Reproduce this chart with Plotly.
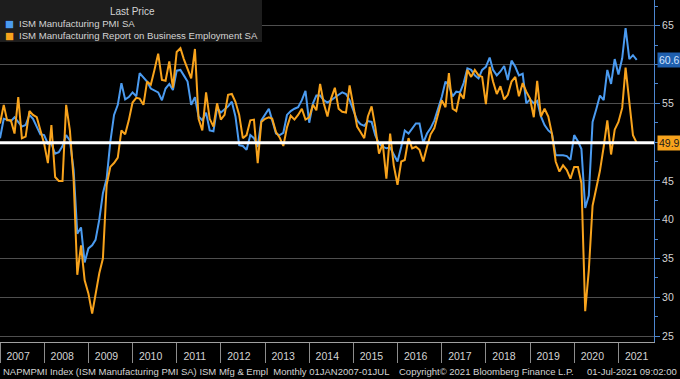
import pandas as pd
import plotly.graph_objects as go

# ---------------- data ----------------
start_month = "2007-01-01"

pmi = [
    # 2007
    50.5, 53.0, 52.9, 52.7, 53.2, 52.6, 52.0, 52.2, 53.5, 53.0, 52.0, 51.0,
    # 2008
    50.9, 49.8, 49.8, 48.5, 48.7, 49.5, 50.9, 50.2, 46.4, 38.2, 39.0, 34.5,
    # 2009
    36.3, 36.7, 37.4, 40.0, 43.4, 45.3, 50.0, 53.5, 54.8, 57.6, 55.5, 55.8,
    # 2010
    56.4, 55.9, 58.9, 58.4, 57.8, 56.9, 56.6, 56.4, 55.4, 56.9, 57.5, 56.7,
    # 2011
    59.2, 59.3, 58.6, 57.8, 54.8, 55.8, 53.3, 52.8, 53.8, 51.5, 51.4, 54.4,
    # 2012
    53.8, 54.2, 54.6, 55.2, 53.3, 49.6, 49.5, 49.0, 50.9, 50.5, 49.4, 52.8,
    # 2013
    53.5, 54.3, 52.8, 51.1, 50.9, 51.2, 53.5, 54.0, 54.3, 54.5, 55.4, 56.6,
    # 2014
    52.5, 55.0, 56.0, 56.0, 55.4, 55.1, 55.4, 55.8, 56.1, 56.4, 56.2, 55.4,
    # 2015
    54.0, 52.8, 52.3, 52.1, 52.7, 52.6, 50.9, 49.8, 49.4, 49.2, 49.3, 48.5,
    # 2016
    47.5, 49.4, 51.5, 51.1, 51.8, 52.4, 52.4, 49.9, 51.1, 51.8, 52.8, 54.3,
    # 2017
    55.8, 57.8, 57.3, 55.9, 56.5, 56.4, 57.6, 59.5, 59.3, 58.6, 58.2, 59.3,
    # 2018
    59.7, 60.9, 59.3, 58.6, 59.1, 59.8, 58.0, 60.5, 59.7, 58.6, 58.8, 55.0,
    # 2019
    55.5, 55.0, 55.3, 53.3, 52.2, 51.5, 51.1, 48.3, 48.3, 48.3, 48.2, 47.7,
    # 2020
    50.9, 50.1, 49.1, 41.5, 43.1, 52.6, 54.2, 56.0, 55.4, 59.3, 57.5, 60.7,
    # 2021
    58.7, 60.8, 64.7, 60.7, 61.2, 60.6,
]

emp = [
    # 2007
    52.4, 54.8, 52.8, 52.8, 51.1, 55.8, 50.5, 50.7, 54.0, 53.5, 53.2, 51.5,
    # 2008
    49.8, 47.3, 52.2, 45.5, 45.0, 45.0, 54.8, 51.5, 45.1, 32.9, 36.7, 32.2,
    # 2009
    30.5, 27.9, 30.5, 33.1, 35.0, 44.5, 46.8, 47.3, 48.0, 51.5, 51.0, 52.8,
    # 2010
    55.1, 55.7, 55.6, 54.8, 57.8, 57.4, 59.3, 61.4, 58.0, 57.9, 60.4, 57.0,
    # 2011
    61.6, 62.1, 60.7, 59.3, 58.2, 62.0, 53.0, 51.5, 56.4, 53.0, 52.0, 55.0,
    # 2012
    52.9, 53.5, 56.1, 56.2, 55.2, 53.5, 50.5, 50.9, 52.8, 52.9, 47.3, 52.6,
    # 2013
    53.0, 53.2, 53.0, 51.3, 50.6, 49.5, 51.9, 53.4, 52.9, 53.5, 54.3, 52.9,
    # 2014
    53.2, 54.8, 54.1, 57.5, 55.0, 53.3, 55.6, 57.0, 54.3, 53.9, 53.8, 57.3,
    # 2015
    54.8, 52.0, 51.3, 50.5, 53.3, 54.6, 52.0, 48.5, 49.8, 45.3, 51.1, 47.0,
    # 2016
    44.5, 47.5, 47.7, 50.5, 49.2, 49.4, 49.0, 47.5, 49.4, 51.0, 51.8, 53.5,
    # 2017
    55.4, 54.5, 58.9, 54.3, 54.0, 56.3, 55.6, 59.3, 58.4, 59.3, 58.6, 58.4,
    # 2018
    54.9, 59.7, 57.8, 56.2, 57.2, 55.5, 56.1, 57.8, 58.4, 55.9, 57.6, 56.5,
    # 2019
    55.6, 53.2, 57.9, 53.3, 54.3, 53.3, 51.1, 47.5, 46.2, 47.0, 46.4, 45.3,
    # 2020
    46.8, 46.8, 44.7, 28.2, 33.5, 41.8, 44.0, 46.3, 49.4, 52.8, 48.4, 51.6,
    # 2021
    52.6, 54.4, 59.6, 55.1, 50.9, 49.9,
]

series_names = ["ISM Manufacturing PMI SA",
                "ISM Manufacturing Report on Business Employment SA"]
legend_title = "Last Price"
y_tick_values = [25, 30, 35, 40, 45, 50, 55, 60, 65]
y_tick_labels = ["25", "30", "35", "40", "45", "", "55", "", "65"]
x_range = ["2007-01-01", "2021-10-22"]
y_range = [24.24, 68.31]
footer_left = "NAPMPMI Index (ISM Manufacturing PMI SA) ISM Mfg &amp; Empl  Monthly 01JAN2007-01JUL"
footer_mid = "Copyright\u00a9 2021 Bloomberg Finance L.P."
footer_right = "01-Jul-2021 09:02:00"

dates = pd.date_range(start_month, periods=len(pmi), freq="MS")

# ---------------- style ----------------
W, H = 680, 379
ML, MR, MT, MB = 0, 26, 0, 37
PW, PH = W - ML - MR, H - MT - MB
BLUE = "#4b9bf0"
ORANGE = "#f8a31c"
AXIS_BLUE = "#4d86cf"
TXT = "#d4d4d4"
FONT = "Liberation Sans, Arial, sans-serif"


def px_x(p):
    return p / PW


def px_y(p):
    return 1 - p / PH


fig = go.Figure()
fig.add_trace(go.Scatter(x=dates, y=pmi, mode="lines", name=series_names[0],
                         line=dict(color=BLUE, width=2)))
fig.add_trace(go.Scatter(x=dates, y=emp, mode="lines", name=series_names[1],
                         line=dict(color=ORANGE, width=2)))

# white reference line at the last employment value
fig.add_hline(y=emp[-1], line=dict(color="white", width=3))

fig.update_layout(
    width=W, height=H,
    margin=dict(l=ML, r=MR, t=MT, b=MB),
    paper_bgcolor="black", plot_bgcolor="black",
    showlegend=False,
    font=dict(family=FONT, color=TXT, size=10),
    xaxis=dict(
        type="date", range=x_range,
        tick0="2007-01-01", dtick="M12", tickformat="%Y",
        ticklabelmode="period",
        ticks="outside", ticklen=20, tickcolor="#8c8c8c", tickwidth=1,
        ticklabelstandoff=-16, ticklabelshift=-4,
        showgrid=False, zeroline=False,
        showline=True, linecolor="#a0a0a0", linewidth=1,
        tickfont=dict(family=FONT, color=TXT, size=10.5),
    ),
    yaxis=dict(
        side="right", range=y_range,
        tickvals=y_tick_values, ticktext=y_tick_labels,
        ticks="outside", ticklen=5, tickcolor=AXIS_BLUE, tickwidth=1,
        showline=True, linecolor=AXIS_BLUE, linewidth=1,
        showgrid=True, gridcolor="#4f4f4f", gridwidth=1,
        zeroline=False,
        tickfont=dict(family=FONT, color=TXT, size=10.5),
        minor=dict(dtick=2.5, ticks="outside", ticklen=3, tickcolor=AXIS_BLUE,
                   showgrid=False),
    ),
)

# legend box drawn as a panel
fig.add_shape(type="rect", xref="paper", yref="paper",
              x0=0, x1=px_x(262), y0=px_y(42), y1=1,
              fillcolor="#1d1d1d", line=dict(width=0), layer="above")

ann = []
ann.append(dict(text=legend_title, xref="paper", yref="paper",
                x=px_x(132), y=px_y(11), xanchor="center", yanchor="middle",
                showarrow=False, font=dict(family=FONT, size=10, color=TXT)))
for i, (nm, col) in enumerate(zip(series_names, [BLUE, ORANGE])):
    ypix = 23 + 12 * i
    ann.append(dict(text="\u25A0", xref="paper", yref="paper",
                    x=px_x(3), y=px_y(ypix), xanchor="left", yanchor="middle",
                    showarrow=False, font=dict(family="DejaVu Sans", size=9.5, color=col)))
    ann.append(dict(text=nm, xref="paper", yref="paper",
                    x=px_x(17), y=px_y(ypix), xanchor="left", yanchor="middle",
                    showarrow=False, font=dict(family=FONT, size=9.6, color=TXT)))

# last value tags on the right axis
ann.append(dict(text=f"{pmi[-1]:.1f}", xref="paper", yref="y", x=1, y=pmi[-1],
                xanchor="left", yanchor="middle", xshift=3, showarrow=False,
                bgcolor="#1f5fae", borderpad=1,
                font=dict(family=FONT, size=10.5, color="#cfe3ff")))
ann.append(dict(text=f"{emp[-1]:.1f}", xref="paper", yref="y", x=1, y=emp[-1],
                xanchor="left", yanchor="middle", xshift=3, showarrow=False,
                bgcolor=ORANGE, borderpad=1,
                font=dict(family=FONT, size=10.5, color="#1a1a1a")))

# footer
ann.append(dict(text=footer_left, xref="paper", yref="paper", x=px_x(1), y=0,
                yshift=-29, xanchor="left", yanchor="middle", showarrow=False,
                font=dict(family=FONT, size=9.5, color=TXT)))
ann.append(dict(text=footer_mid, xref="paper", yref="paper", x=px_x(397), y=0,
                yshift=-29, xanchor="left", yanchor="middle", showarrow=False,
                font=dict(family=FONT, size=9.5, color=TXT)))
ann.append(dict(text=footer_right, xref="paper", yref="paper", x=px_x(679), y=0,
                yshift=-29, xanchor="right", yanchor="middle", showarrow=False,
                font=dict(family=FONT, size=9.5, color=TXT)))

fig.update_layout(annotations=ann)
fig.write_html("out.html",
               config={"displayModeBar": False},
               post_script="document.body.style.margin='0px';document.body.style.background='black';")
